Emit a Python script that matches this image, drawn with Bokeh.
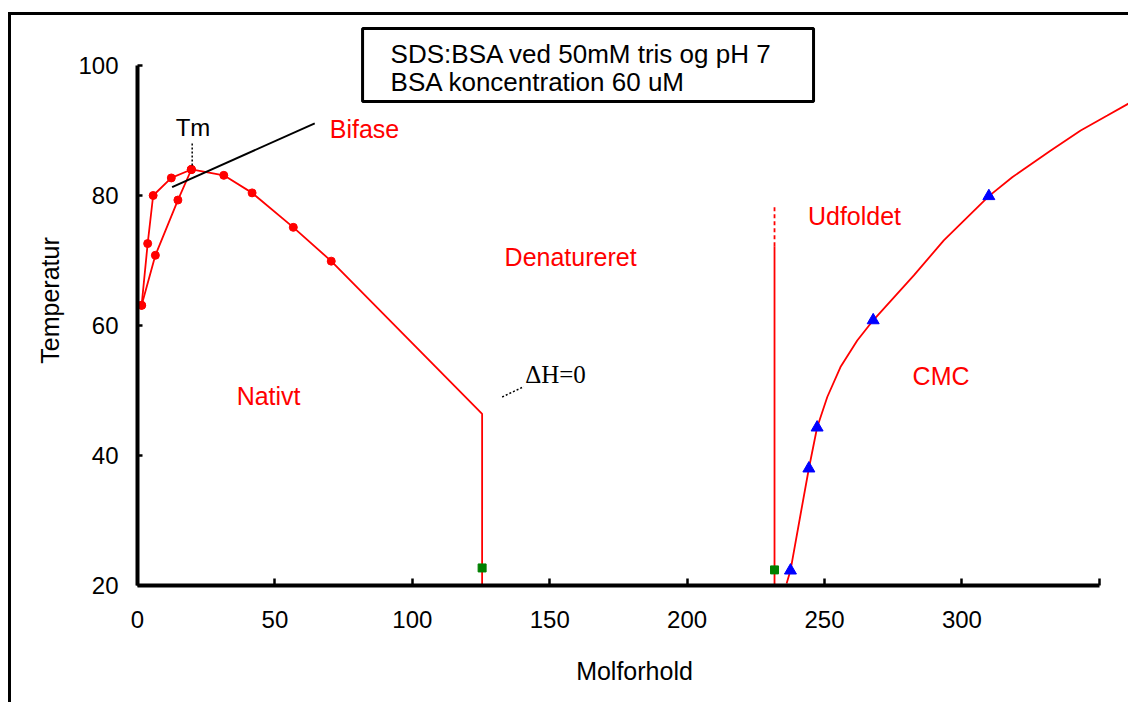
from bokeh.plotting import figure
from bokeh.models import Range1d, Label, BoxAnnotation, FixedTicker
from bokeh.embed import file_html
from bokeh.resources import INLINE

# ---------------- data ----------------
# Tm measurements: rising (upper) branch, peak and falling branch
tm_upper_x = [1.5, 3.7, 5.7, 12.3, 19.6]
tm_upper_y = [63.1, 72.6, 80.0, 82.7, 84.0]
tm_lower_x = [1.5, 6.5, 14.7, 19.6]
tm_lower_y = [63.1, 70.8, 79.3, 84.0]
tm_fall_x = [19.6, 31.4, 41.7, 56.7, 70.5]
tm_fall_y = [84.0, 83.1, 80.4, 75.1, 69.9]
# phase boundary continuation (Nativt / Denatureret) to the Delta H = 0 point
bound_x = [70.5, 125.4, 125.4]
bound_y = [69.9, 46.4, 20.0]
# green squares (Delta H = 0 / unfolding point)
sq_x = [125.4, 231.8]
sq_y = [22.7, 22.4]
# Udfoldet boundary (solid part and dashed continuation)
unf_x = [231.8, 231.8]
unf_y = [20.0, 72.2]
unf_dash_y = [72.2, 78.5]
# CMC measurements (triangles) and the drawn CMC curve
cmc_x = [237.6, 244.3, 247.3, 267.7, 309.8]
cmc_y = [22.3, 38.0, 44.3, 60.8, 79.9]
cmc_line_x = [236.2, 237.6, 241.3, 244.3, 247.3, 251.0, 255.8, 261.9, 267.7,
              282.5, 293.4, 309.8, 318.3, 332.2, 343.2, 352.9, 361.7]
cmc_line_y = [20.3, 22.3, 31.0, 38.0, 44.3, 49.0, 53.6, 57.7, 60.8,
              67.7, 73.1, 79.9, 82.8, 86.9, 90.0, 92.3, 94.4]
x_ticks = [0, 50, 100, 150, 200, 250, 300, 350]
y_ticks = [20, 40, 60, 80, 100]

RED = "#FF0000"
SANS = "Liberation Sans"

p = figure(width=1120, height=690, output_backend="svg", toolbar_location=None,
           x_range=Range1d(0, 361.7), y_range=Range1d(20, 107.69),
           min_border_left=126, min_border_right=0, min_border_top=0,
           min_border_bottom=120)
p.styles = {"border-left": "3px solid black", "border-top": "3px solid black",
            "margin-left": "8px", "margin-top": "12px"}
p.background_fill_color = "white"
p.border_fill_color = "white"
p.outline_line_color = None
p.grid.visible = False

for ax in (p.xaxis[0], p.yaxis[0]):
    ax.axis_line_width = 4
    ax.axis_line_color = "black"
    ax.major_tick_line_width = 2.5
    ax.major_tick_line_color = "black"
    ax.major_tick_out = 0
    ax.minor_tick_line_color = None
    ax.major_label_text_font = SANS
    ax.major_label_text_font_size = "24px"
    ax.major_label_text_color = "black"
    ax.axis_label_text_font = SANS
    ax.axis_label_text_font_size = "25px"
    ax.axis_label_text_font_style = "normal"
    ax.axis_label_text_color = "black"

p.xaxis.ticker = FixedTicker(ticks=x_ticks)
p.xaxis.major_label_overrides = {350: ""}
p.xaxis.bounds = (0, 350)
p.xaxis.major_tick_in = 7
p.xaxis.major_label_standoff = 25
p.xaxis.axis_label = "Molforhold"
p.xaxis.axis_label_standoff = 26

p.yaxis.ticker = FixedTicker(ticks=y_ticks)
p.yaxis.bounds = (20, 100)
p.yaxis.major_tick_in = 5
p.yaxis.major_label_standoff = 19
p.yaxis.axis_label = "Temperatur"
p.yaxis.axis_label_standoff = 11

# ---------------- red Tm curve and boundary ----------------
p.line(tm_upper_x, tm_upper_y, line_color=RED, line_width=1.8)
p.line(tm_lower_x, tm_lower_y, line_color=RED, line_width=1.8)
p.line(tm_fall_x, tm_fall_y, line_color=RED, line_width=1.8)
p.line(bound_x, bound_y, line_color=RED, line_width=1.8)
p.scatter(tm_upper_x, tm_upper_y, marker="circle", size=8, color=RED)
p.scatter(tm_lower_x, tm_lower_y, marker="circle", size=8, color=RED)
p.scatter(tm_fall_x, tm_fall_y, marker="circle", size=8, color=RED)

# Udfoldet boundary
p.line(unf_x, unf_y, line_color=RED, line_width=1.8)
p.line(unf_x, unf_dash_y, line_color=RED, line_width=1.8, line_dash="4 3")

# CMC curve
p.line(cmc_line_x, cmc_line_y, line_color=RED, line_width=1.8)
p.scatter(cmc_x, cmc_y, marker="triangle", size=12, color="#0000FF")

# green squares
p.scatter(sq_x, sq_y, marker="square", size=8, color="#008000")

# ---------------- annotations ----------------
# Bifase pointer line, Tm leader, Delta H leader
p.line([12.6, 64.5], [81.3, 91.1], line_color="black", line_width=2)
p.line([19.9, 19.9], [84.6, 88.2], line_color="black", line_width=1.5, line_dash="2 2")
p.line([132.7, 140.6], [49.0, 50.6], line_color="black", line_width=1.5, line_dash="2 2")

def lab(x, y, text, color=RED, font=SANS, size="25px"):
    p.add_layout(Label(x=x, y=y, text=text, text_align="center",
                       text_baseline="middle", text_font=font,
                       text_font_size=size, text_color=color))

lab(47.7, 49.1, "Nativt")
lab(157.6, 70.5, "Denatureret")
lab(260.9, 76.9, "Udfoldet")
lab(292.4, 52.2, "CMC")
lab(82.6, 90.2, "Bifase")
lab(20.2, 90.4, "Tm", color="black", size="24px")
lab(152.1, 52.5, "\u0394H=0", color="black", font="Liberation Serif", size="25px")

# info box
p.add_layout(BoxAnnotation(left=81.9, right=246.0, bottom=94.46, top=105.7,
                           fill_color="white", fill_alpha=1.0,
                           line_color="black", line_alpha=1.0, line_width=3))
p.add_layout(Label(x=92.1, y=101.7, text="SDS:BSA ved 50mM tris og pH 7",
                   text_align="left", text_baseline="alphabetic",
                   text_font=SANS, text_font_size="26px",
                   text_color="black"))
p.add_layout(Label(x=92.1, y=97.43, text="BSA koncentration 60 uM",
                   text_align="left", text_baseline="alphabetic",
                   text_font=SANS, text_font_size="26px",
                   text_color="black"))

open("out.html", "w").write(file_html(p, INLINE))
